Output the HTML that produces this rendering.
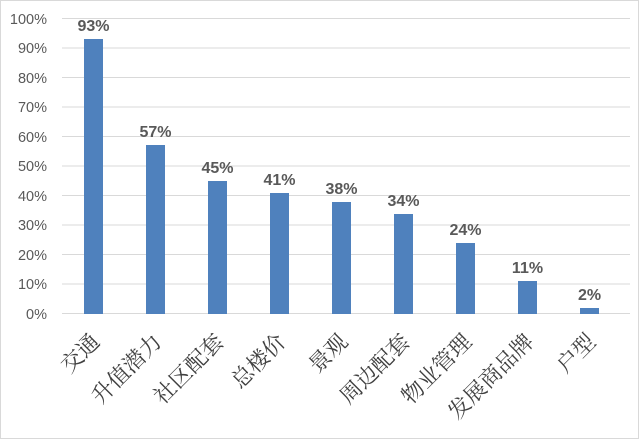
<!DOCTYPE html>
<html><head><meta charset="utf-8"><style>body{margin:0;background:#fff}svg{display:block}</style></head><body>
<svg width="640" height="440" xmlns="http://www.w3.org/2000/svg">
<rect x="0.5" y="0.5" width="638" height="438" fill="#fff" stroke="#d9d9d9"/>
<g stroke="#d9d9d9" stroke-width="1">
<line x1="62" x2="630" y1="313.5" y2="313.5"/>
<line x1="62" x2="630" y1="284" y2="284"/>
<line x1="62" x2="630" y1="254.5" y2="254.5"/>
<line x1="62" x2="630" y1="225" y2="225"/>
<line x1="62" x2="630" y1="195.5" y2="195.5"/>
<line x1="62" x2="630" y1="166" y2="166"/>
<line x1="62" x2="630" y1="136.5" y2="136.5"/>
<line x1="62" x2="630" y1="107" y2="107"/>
<line x1="62" x2="630" y1="77.5" y2="77.5"/>
<line x1="62" x2="630" y1="48" y2="48"/>
<line x1="62" x2="630" y1="18.5" y2="18.5"/>
</g>
<g font-family="Liberation Sans, sans-serif" font-size="14.5" fill="#595959" text-anchor="end">
<text x="47" y="319">0%</text><text x="47" y="289">10%</text><text x="47" y="260">20%</text>
<text x="47" y="230">30%</text><text x="47" y="201">40%</text><text x="47" y="171">50%</text>
<text x="47" y="142">60%</text><text x="47" y="112">70%</text><text x="47" y="83">80%</text>
<text x="47" y="53">90%</text><text x="47" y="24">100%</text>
</g>
<g fill="#4f81bd">
<rect x="84" y="39" width="19" height="275"/>
<rect x="146" y="145" width="19" height="169"/>
<rect x="208" y="181" width="19" height="133"/>
<rect x="270" y="193" width="19" height="121"/>
<rect x="332" y="202" width="19" height="112"/>
<rect x="394" y="214" width="19" height="100"/>
<rect x="456" y="243" width="19" height="71"/>
<rect x="518" y="281" width="19" height="33"/>
<rect x="580" y="308" width="19" height="6"/>
</g>
<g font-family="Liberation Sans, sans-serif" font-size="16" font-weight="bold" fill="#595959" text-anchor="middle">
<text x="93.5" y="31">93%</text><text x="155.5" y="137">57%</text><text x="217.5" y="173">45%</text>
<text x="279.5" y="185">41%</text><text x="341.5" y="194">38%</text><text x="403.5" y="206">34%</text>
<text x="465.5" y="235">24%</text><text x="527.5" y="273">11%</text><text x="589.5" y="300">2%</text>
</g>
<g font-family="Noto Serif CJK SC, serif" font-size="22" fill="#404040" text-anchor="end">
<text transform="translate(101,343) rotate(-45)">交通</text>
<text transform="translate(163,343) rotate(-45)">升值潜力</text>
<text transform="translate(225,343) rotate(-45)">社区配套</text>
<text transform="translate(287,343) rotate(-45)">总楼价</text>
<text transform="translate(349,343) rotate(-45)">景观</text>
<text transform="translate(411,343) rotate(-45)">周边配套</text>
<text transform="translate(473,343) rotate(-45)">物业管理</text>
<text transform="translate(535,343) rotate(-45)">发展商品牌</text>
<text transform="translate(597,343) rotate(-45)">户型</text>
</g>
</svg>
</body></html>
